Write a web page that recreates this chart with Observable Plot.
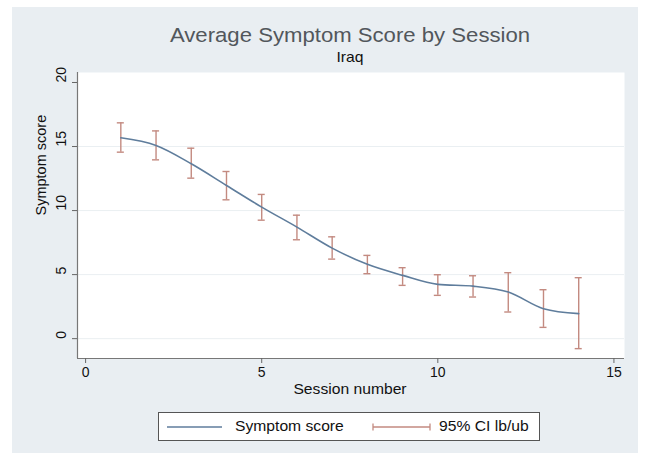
<!DOCTYPE html>
<html>
<head>
<meta charset="utf-8">
<script src="https://cdn.jsdelivr.net/npm/d3@7"></script>
<script src="https://cdn.jsdelivr.net/npm/@observablehq/plot@0.6"></script>
<style>
  html, body { margin: 0; padding: 0; background: #ffffff; }
  #wrap { position: relative; width: 647px; height: 460px; font-family: "Liberation Sans", Arial, sans-serif; }
  #bg { position: absolute; left: 12px; top: 7px; width: 626px; height: 446px; background: #e9eef2; }
  #chart { position: absolute; left: 0; top: 0; }
  .t { position: absolute; white-space: nowrap; transform: translate(-50%, -50%) scaleX(1.08); }
  #title { left: 350px; top: 35px; font-size: 20.5px; color: #52575c; }
  #subtitle { left: 350px; top: 57px; font-size: 14.5px; color: #111; }
  #xlabel { left: 350px; top: 389px; font-size: 14.5px; color: #111; }
  #legend { position: absolute; left: 158px; top: 412px; width: 382px; height: 29px; background: #fff; border: 1px solid #555; box-sizing: border-box; font-size: 14.5px; color: #111; }
  #legend .item { position: absolute; top: 0; height: 27px; line-height: 27px; transform: scaleX(1.08); transform-origin: left center; white-space: nowrap; }
</style>
</head>
<body>
<div id="wrap">
  <div id="bg"></div>
  <div id="chart"></div>
  <div class="t" id="title">Average Symptom Score by Session</div>
  <div class="t" id="subtitle">Iraq</div>
  <div class="t" id="xlabel">Session number</div>
  <div id="legend">
    <svg id="legsvg" width="380" height="27" style="position:absolute;left:0;top:0"></svg>
    <div class="item" style="left:76px">Symptom score</div>
    <div class="item" style="left:280px">95% CI lb/ub</div>
  </div>
</div>
<script>
const sessions = [1, 2, 3, 4, 5, 6, 7, 8, 9, 10, 11, 12, 13, 14];
const meanScore = [15.68, 15.08, 13.65, 11.96, 10.27, 8.71, 7.07, 5.80, 4.94, 4.24, 4.10, 3.64, 2.34, 1.95];
const ciLower = [14.56, 13.96, 12.53, 10.84, 9.25, 7.72, 6.21, 5.07, 4.16, 3.38, 3.25, 2.08, 0.88, -0.78];
const ciUpper = [16.85, 16.22, 14.87, 13.05, 11.26, 9.64, 7.95, 6.50, 5.54, 4.99, 4.91, 5.15, 3.82, 4.76];
const xTicks = [0, 5, 10, 15];
const yTicks = [0, 5, 10, 15, 20];
const gridVals = [0, 5, 10, 15];
const xDomain = [-0.23, 15.3];
const yDomain = [-1.55, 20.78];

const lineColor = "#5f7d9c";
const ciColor = "#c38a80";
const capHalf = 0.1;

const data = sessions.map((s, i) => ({s, m: meanScore[i], lo: ciLower[i], hi: ciUpper[i]}));

const plot = Plot.plot({
  width: 647,
  height: 460,
  marginTop: 72,
  marginBottom: 102,
  marginLeft: 77,
  marginRight: 23,
  style: {background: "transparent", fontFamily: "Liberation Sans, Arial, sans-serif", fontSize: "13.5px", color: "#111"},
  x: {domain: xDomain},
  y: {domain: yDomain},
  marks: [
    Plot.frame({fill: "white", stroke: null}),
    Plot.ruleY(gridVals, {stroke: "#eaeff2", strokeWidth: 1}),
    Plot.ruleX([xDomain[0]], {stroke: "#777", strokeWidth: 1.2}),
    Plot.ruleY([yDomain[0]], {stroke: "#777", strokeWidth: 1.2}),
    Plot.axisX({ticks: xTicks, tickSize: 5, tickPadding: 4, label: null, stroke: "#666", fontSize: 14, tickFormat: d => String(d)}),
    Plot.axisY({ticks: yTicks, tickSize: 5, label: null, stroke: "#666", tickFormat: () => ""}),
    Plot.text(yTicks, {y: d => d, text: d => String(d), frameAnchor: "left", dx: -16, rotate: -90, fontSize: 14, fill: "#111"}),
    Plot.text(["Symptom score"], {frameAnchor: "left", dx: -36, rotate: -90, fontSize: 14.5, fill: "#111"}),
    Plot.ruleX(data, {x: "s", y1: "lo", y2: "hi", stroke: ciColor, strokeWidth: 1.4}),
    Plot.ruleY(data, {y: "lo", x1: d => d.s - capHalf, x2: d => d.s + capHalf, stroke: ciColor, strokeWidth: 1.4}),
    Plot.ruleY(data, {y: "hi", x1: d => d.s - capHalf, x2: d => d.s + capHalf, stroke: ciColor, strokeWidth: 1.4}),
    Plot.line(data, {x: "s", y: "m", curve: "monotone-x", stroke: lineColor, strokeWidth: 1.6})
  ]
});
document.getElementById("chart").appendChild(plot);

// legend symbols
const leg = d3.select("#legsvg");
leg.append("line").attr("x1", 8).attr("x2", 63).attr("y1", 14).attr("y2", 14).attr("stroke", lineColor).attr("stroke-width", 1.4);
leg.append("line").attr("x1", 214).attr("x2", 271).attr("y1", 14).attr("y2", 14).attr("stroke", ciColor).attr("stroke-width", 1.3);
leg.append("line").attr("x1", 214).attr("x2", 214).attr("y1", 10.5).attr("y2", 17.5).attr("stroke", ciColor).attr("stroke-width", 1.3);
leg.append("line").attr("x1", 271).attr("x2", 271).attr("y1", 10.5).attr("y2", 17.5).attr("stroke", ciColor).attr("stroke-width", 1.3);
</script>
</body>
</html>
